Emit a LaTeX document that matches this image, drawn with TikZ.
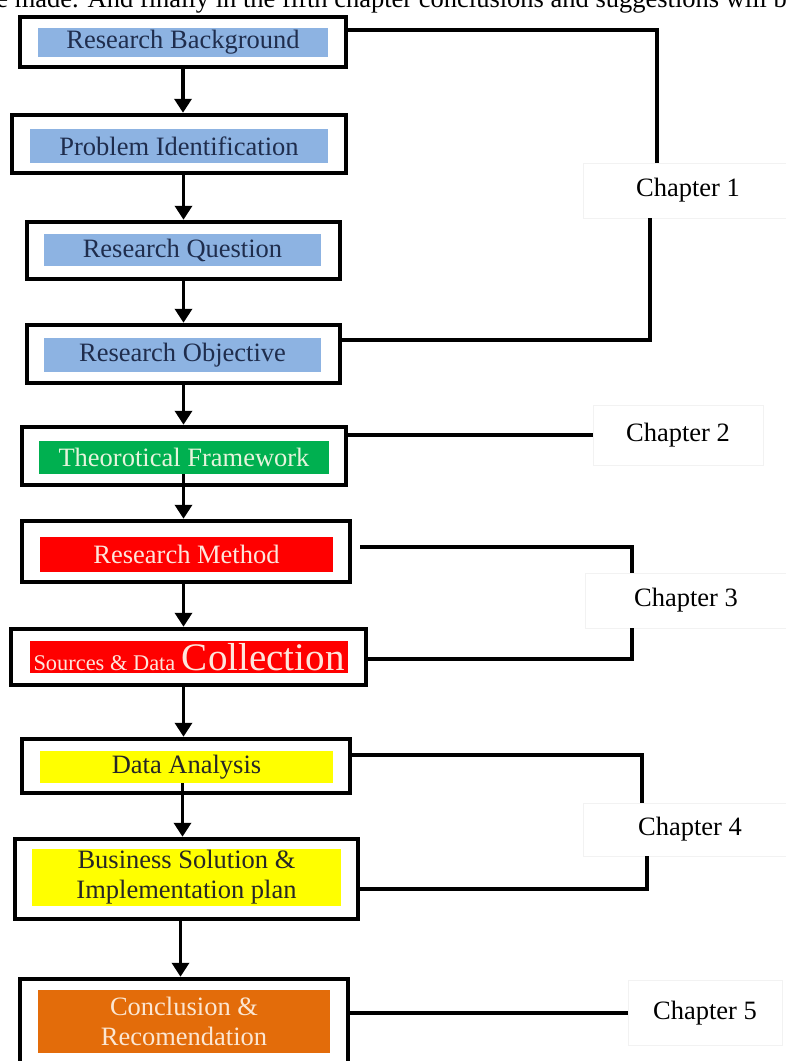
\documentclass[tikz,border=0pt]{standalone}
\usepackage{fontspec}
\setmainfont{Liberation Serif}
\usetikzlibrary{arrows.meta}

\definecolor{azul}{HTML}{8DB3E2}
\definecolor{azultexto}{HTML}{1F2D4D}
\definecolor{verde}{HTML}{00B050}
\definecolor{verdetexto}{HTML}{E6F4DC}
\definecolor{rojo}{HTML}{FF0000}
\definecolor{rojotexto}{HTML}{FDE6DC}
\definecolor{amarillo}{HTML}{FFFF00}
\definecolor{amarillotexto}{HTML}{262626}
\definecolor{naranja}{HTML}{E36C0A}
\definecolor{naranjatexto}{HTML}{FBE6D2}

\begin{document}
\begin{tikzpicture}[x=1pt, y=-1pt,
    marco/.style={draw, line width=4.5pt, inner sep=0pt},
    caja/.style={inner sep=0pt, align=center, font=\fontsize{26.5}{30}\selectfont},
    capitulo/.style={draw=black!5, fill=white, inner sep=0pt, font=\fontsize{26.5}{30}\selectfont},
    flecha/.style={line width=3.5pt, -{Triangle[width=17pt,length=14pt]}},
    enlace/.style={line width=4.5pt}]
    \clip (0,0) rectangle (786,1061);
    \useasboundingbox (0,0) rectangle (786,1061);

    % Texto cortado arriba
    \node[anchor=base west, inner sep=0pt, font=\fontsize{26.5}{30}\selectfont] (texto) at (-17,7)
        {be made. And finally in the fifth chapter conclusions and suggestions will be};

    % Marcos
    \node[marco, minimum width=326pt, minimum height=50pt] (f1) at (183,42) {};
    \node[marco, minimum width=334pt, minimum height=58pt] (f2) at (179,144) {};
    \node[marco, minimum width=313pt, minimum height=57pt] (f3) at (183.5,250.5) {};
    \node[marco, minimum width=313pt, minimum height=58pt] (f4) at (183.5,354) {};
    \node[marco, minimum width=324pt, minimum height=58pt] (f5) at (184,456) {};
    \node[marco, minimum width=328pt, minimum height=61pt] (f6) at (186,551.5) {};
    \node[marco, minimum width=355pt, minimum height=56pt] (f7) at (188.5,657) {};
    \node[marco, minimum width=328pt, minimum height=54pt] (f8) at (186,766) {};
    \node[marco, minimum width=343pt, minimum height=80pt] (f9) at (186.5,879) {};
    \node[marco, minimum width=328pt, minimum height=96pt] (f10) at (184,1027) {};

    % Cajas de color
    \node[caja, fill=azul, text=azultexto, minimum width=290pt, minimum height=29pt] (i1) at (183,42.5) {Research Background};
    \node[caja, fill=azul, text=azultexto, minimum width=298pt, minimum height=34pt] (i2) at (179,146) {Problem Identification};
    \node[caja, fill=azul, text=azultexto, minimum width=277pt, minimum height=32pt] (i3) at (182.5,250) {Research Question};
    \node[caja, fill=azul, text=azultexto, minimum width=277pt, minimum height=34pt] (i4) at (182.5,355) {Research Objective};
    \node[caja, fill=verde, text=verdetexto, minimum width=290pt, minimum height=33pt] (i5) at (184,457.5) {Theorotical Framework};
    \node[caja, fill=rojo, text=rojotexto, minimum width=293pt, minimum height=35pt] (i6) at (186.5,554.5) {Research Method};
    \node[caja, fill=rojo, text=rojotexto, minimum width=318pt, minimum height=32pt] (i7) at (189,657)
        {{\fontsize{22.4}{26}\selectfont Sources \& Data} {\fontsize{39}{40}\selectfont Collection}};
    \node[caja, fill=amarillo, text=amarillotexto, minimum width=293pt, minimum height=32pt] (i8) at (186.5,767) {Data Analysis};
    \node[caja, fill=amarillo, text=amarillotexto, minimum width=309pt, minimum height=57pt] (i9) at (186.5,877.5) {Business Solution \&\\Implementation plan};
    \node[caja, fill=naranja, text=naranjatexto, minimum width=292pt, minimum height=63pt] (i10) at (184,1021.5) {Conclusion \&\\Recomendation};

    % Flechas
    \draw[flecha] (f1.south) -- (f1.south |- f2.north);
    \draw[flecha] (f3.north |- f2.south) -- (f3.north);
    \draw[flecha] (f3.south) -- (f3.south |- f4.north);
    \draw[flecha] (f4.south) -- (f4.south |- f5.north);
    \draw[flecha] (i5.south -| f4.south) -- (f4.south |- f6.north);
    \draw[flecha] (f6.south -| f4.south) -- (f4.south |- f7.north);
    \draw[flecha] (f7.south -| f4.south) -- (f4.south |- f8.north);
    \draw[flecha] ([xshift=-1pt]i8.south -| f4.south) -- ([xshift=-1pt]f4.south |- f9.north);
    \draw[flecha] ([xshift=-3pt]f9.south -| f4.south) -- ([xshift=-3pt]f4.south |- f10.north);

    % Capitulos
    \node[capitulo, minimum width=210pt, minimum height=55pt] (c1) at (688,190.5) {Chapter 1};
    \node[capitulo, minimum width=170pt, minimum height=60pt] (c2) at (678,435) {Chapter 2};
    \node[capitulo, minimum width=202pt, minimum height=55pt] (c3) at (686,600.5) {Chapter 3};
    \node[capitulo, minimum width=214pt, minimum height=53pt] (c4) at (690,829.5) {Chapter 4};
    \node[capitulo, minimum width=154pt, minimum height=65pt] (c5) at (705,1013) {Chapter 5};

    % Enlaces
    \draw[enlace] ([yshift=12pt]f1.east) -| ([xshift=-31pt]c1.north);
    \draw[enlace] ([xshift=-38pt]c1.south) |- ([yshift=14pt]f4.east);
    \draw[enlace] (f5.east |- c2.west) -- (c2.west);
    \draw[enlace] ([xshift=8pt,yshift=4.5pt]f6.east) -| ([xshift=-54pt]c3.north);
    \draw[enlace] ([xshift=-54pt]c3.south) |- ([yshift=-2pt]f7.east);
    \draw[enlace] ([yshift=11pt]f8.east) -| ([xshift=-48pt]c4.north);
    \draw[enlace] ([xshift=-43pt]c4.south) |- ([yshift=-10pt]f9.east);
    \draw[enlace] (f10.east |- c5.west) -- (c5.west);
\end{tikzpicture}
\end{document}
